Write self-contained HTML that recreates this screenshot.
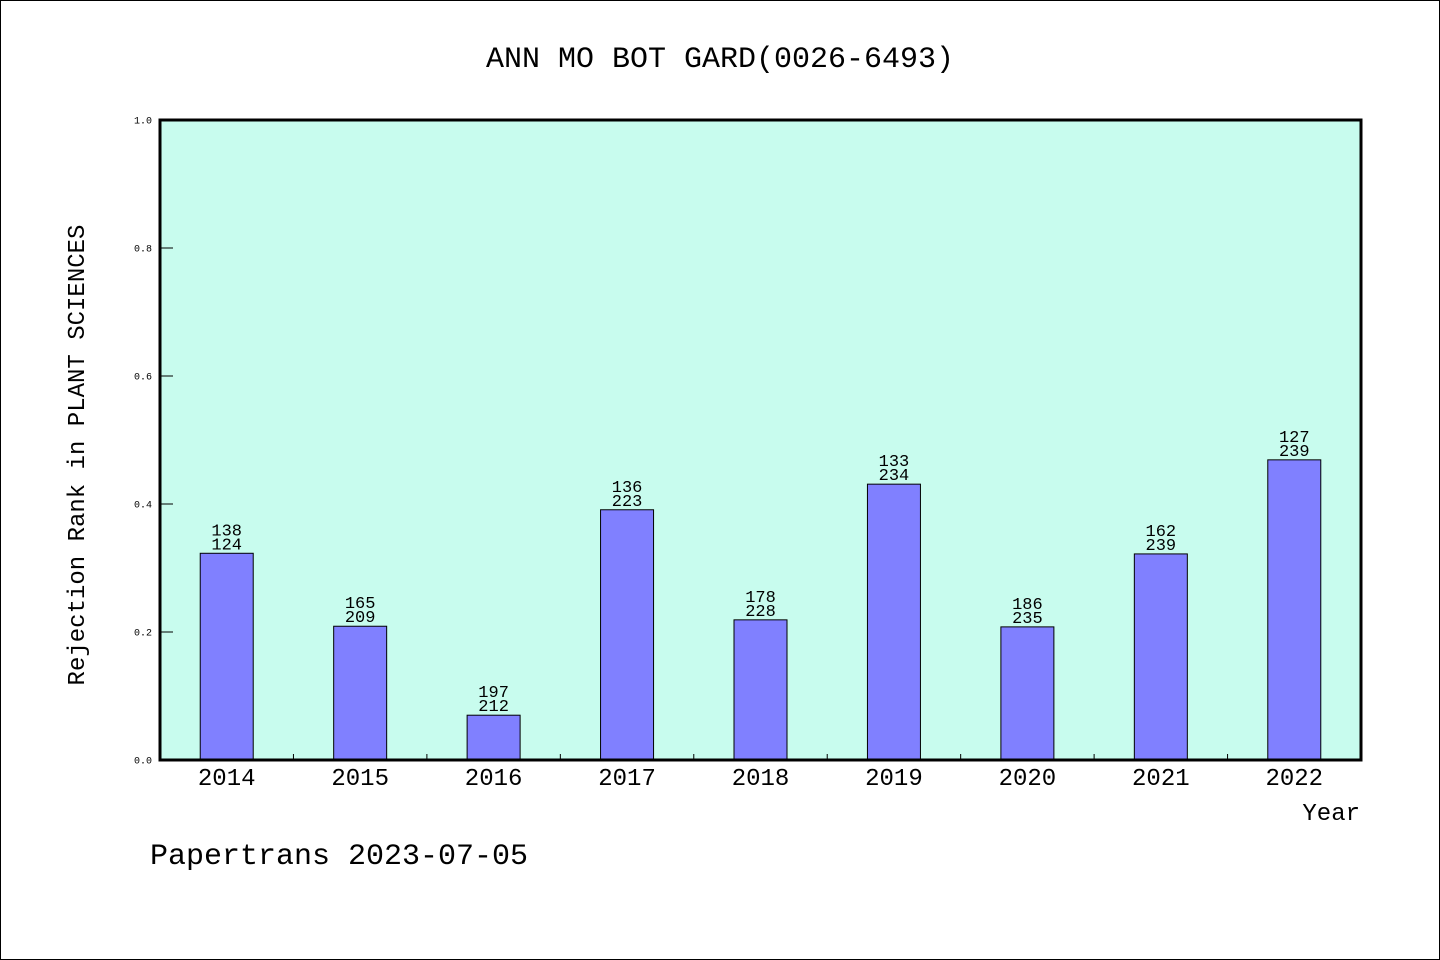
<!DOCTYPE html>
<html><head><meta charset="utf-8"><style>
body{margin:0;background:#fff}
svg{display:block;font-family:"WenQuanYi Zen Hei","Liberation Mono",monospace}
</style></head><body>
<svg id="chart" width="1440" height="960">
<rect x="0.5" y="0.5" width="1439" height="959" fill="#fff" stroke="#000"/>
<text x="720" y="67" text-anchor="middle" font-size="30">ANN MO BOT GARD(0026-6493)</text>
<rect x="160" y="120" width="1201" height="640" fill="#c8fcee"/>
<g id="bars"></g>
<g id="yticks"></g>
<g id="xticks"></g>
<rect x="160" y="120" width="1201" height="640" fill="none" stroke="#000" stroke-width="3"/>
<text transform="translate(84,455) rotate(-90)" text-anchor="middle" font-size="24">Rejection Rank in PLANT SCIENCES</text>
<text x="1360" y="820" text-anchor="end" font-size="24">Year</text>
<text x="150" y="864" font-size="30">Papertrans 2023-07-05</text>
</svg>
<script>
const categories=["2014","2015","2016","2017","2018","2019","2020","2021","2022"];
const values=[0.323,0.209,0.070,0.391,0.219,0.431,0.208,0.322,0.469];
const topLabels=["138","165","197","136","178","133","186","162","127"];
const bottomLabels=["124","209","212","223","228","234","235","239","239"];
const yTicks=["0.0","0.2","0.4","0.6","0.8","1.0"];
const NS="http://www.w3.org/2000/svg";
const x0=160,x1=1361,y0=760,y1=120;
const band=(x1-x0)/categories.length;
const xs=i=>x0+band*(i+0.5);
const ys=v=>y0-(y0-y1)*v;
function mk(t,a,p){const e=document.createElementNS(NS,t);for(const k in a)e.setAttribute(k,a[k]);p.appendChild(e);return e;}
const bars=document.getElementById('bars'),xt=document.getElementById('xticks'),yt=document.getElementById('yticks');
categories.forEach((c,i)=>{
  const cx=xs(i),top=ys(values[i]);
  const r=mk('rect',{x:cx-26.5,y:top,width:53,height:y0-top,fill:'#8080ff',stroke:'#000','stroke-width':1},bars);
  
  
  const t1=mk('text',{x:cx,y:top-18,'text-anchor':'middle','font-size':17},bars);t1.textContent=topLabels[i];
  
  
  const t2=mk('text',{x:cx,y:top-4,'text-anchor':'middle','font-size':17},bars);t2.textContent=bottomLabels[i];
  
  
  const xl=mk('text',{x:cx,y:785,'text-anchor':'middle','font-size':24},xt);xl.textContent=c;
  
  
  if(i>0){const tk=mk('line',{x1:x0+band*i,x2:x0+band*i,y1:y0,y2:y0-6,stroke:'#000'},xt);
  
  }
});
yTicks.forEach(l=>{
  const y=ys(parseFloat(l));
  const tk=mk('line',{x1:x0,x2:x0+13,y1:y,y2:y,stroke:'#000'},yt);
  
  
  const t=mk('text',{x:152,y:y+3.5,'text-anchor':'end','font-size':10},yt);t.textContent=l;
  
  
});
</script>
</body></html>
